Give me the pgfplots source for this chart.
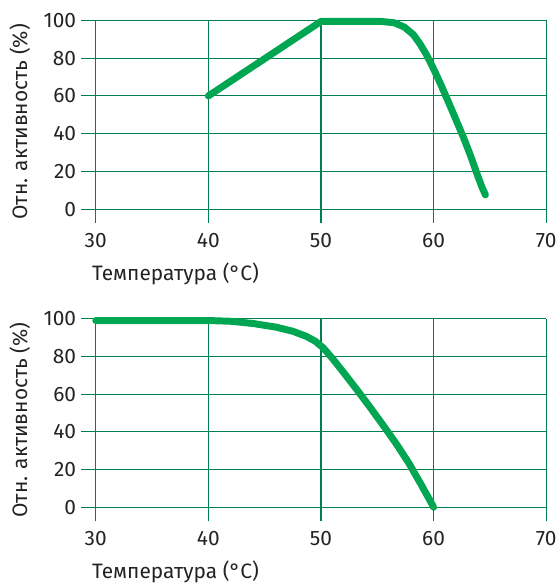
\documentclass[border=0pt]{standalone}
\usepackage{fontspec}
\setmainfont{Fira Sans}
\usepackage{pgfplots}
\pgfplotsset{compat=1.18}
\definecolor{gridgreen}{RGB}{0,128,80}
\definecolor{curvegreen}{RGB}{0,166,81}
\definecolor{txt}{RGB}{35,35,35}

\pgfplotsset{actplot/.style={
 scale only axis,width=234pt,height=102pt,
 xmin=28.7,xmax=70,ymin=-7.5,ymax=100,
 axis line style={draw=none},major tick length=0pt,
 grid=major,grid style={gridgreen,line width=0.55pt},
 xtick={30,40,...,70},ytick={0,20,...,100},
 /pgf/number format/assume math mode=true,
 tick label style={font=\fontsize{10.5}{12}\selectfont,text=txt},
 xticklabel style={yshift=-1.5pt},
 yticklabel style={xshift=1pt},
 label style={font=\fontsize{10.5}{12}\selectfont,text=txt},
 xlabel={Температура (°C)},
 xlabel style={at={(rel axis cs:0.023,0)},anchor=north west,inner sep=0pt,yshift=-19.5pt},
 ylabel={Отн. активность (\%)},
 ylabel style={anchor=south,inner sep=0pt},
 every axis y label/.append style={at={(axis description cs:-0.1085,0.5)}},
 clip=false,
}}
\pgfplotsset{curve/.style={curvegreen,line width=3.5pt,line cap=round,line join=round,no marks}}

\begin{document}
\begin{tikzpicture}
\begin{axis}[actplot,name=top]
\addplot[curve] coordinates {
 (40,60) (50,99.5) (55.3,99.5) (56.5,98.8) (57.4,96.5) (58.2,92.5) (58.8,87.5)
 (59.3,82.5) (59.7,78) (60.3,70.5) (60.9,62.5) (61.8,50) (62.65,38)
 (63.3,28) (63.8,19.5) (64.3,11.5) (64.6,7.5)
};
\end{axis}
\begin{axis}[actplot,at={(0,-150pt)}]
\addplot[curve] coordinates {
 (30,99) (35,99) (40,99) (42,98.6) (44,97.4) (46,95.5) (47.5,93.3)
 (48.7,90.6) (49.5,88) (50.2,84.5) (51,79) (52,71.5) (53.1,63)
 (54.3,53.5) (55.6,42.8) (56.7,33.5) (57.8,23.4) (58.8,13) (59.5,5.5) (60,0)
};
\end{axis}
\pgfresetboundingbox
\path[use as bounding box] ([shift={(-40.8pt,10.3pt)}]top.north west)
 rectangle ([shift={(6.5pt,-284pt)}]top.north east);
\end{tikzpicture}
\end{document}
